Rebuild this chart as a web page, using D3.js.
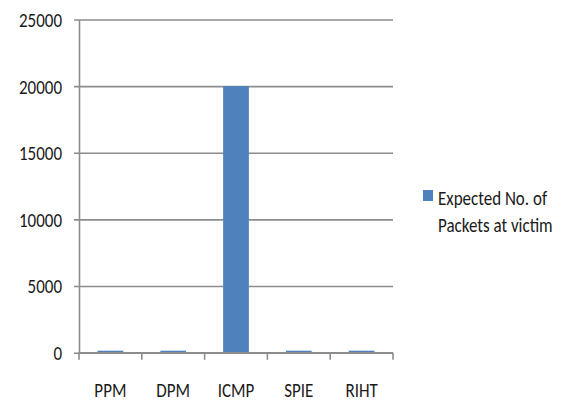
<!DOCTYPE html>
<html>
<head>
<meta charset="utf-8">
<script src="https://cdn.jsdelivr.net/npm/d3@7"></script>
<style>
  html, body { margin: 0; padding: 0; background: #fff; }
  svg text { font-family: Carlito, Lato, "Open Sans", sans-serif; fill: #1a1a1a; }
</style>
</head>
<body>
<svg id="chart" width="568" height="401"></svg>
<script>
// Expected number of packets needed at the victim, per traceback scheme
const categories = ["PPM", "DPM", "ICMP", "SPIE", "RIHT"];
const expectedPackets = [150, 150, 20000, 150, 150];
const yTicks = [0, 5000, 10000, 15000, 20000, 25000];
const seriesName = ["Expected No. of", "Packets at victim"];

const svg = d3.select("#chart");
const margin = { left: 79, right: 175, top: 19.5, bottom: 48.3 };
const W = 568, H = 401;
const stretch = 1.15; // slightly tall lettering

const x = d3.scaleBand()
  .domain(categories)
  .range([margin.left, W - margin.right])
  .paddingInner(0.59)
  .paddingOuter(0.295);

const y = d3.scaleLinear()
  .domain([0, 25000])
  .range([H - margin.bottom, margin.top]);

const gridColor = "#8c8c8c";

// horizontal gridlines
const yAxis = d3.axisLeft(y)
  .tickValues(yTicks)
  .tickSize(-(W - margin.right - margin.left))
  .tickSizeOuter(0)
  .tickPadding(12)
  .tickFormat(d3.format("d"));

const gy = svg.append("g")
  .attr("transform", `translate(${margin.left},0)`)
  .call(yAxis);
gy.select(".domain").attr("stroke", gridColor).attr("stroke-width", 1.6);
gy.selectAll(".tick line")
  .attr("stroke", gridColor).attr("stroke-width", 1.6)
  .attr("x1", -5);
gy.selectAll(".tick text")
  .attr("x", null).attr("dy", null)
  .attr("y", 6)
  .attr("transform", `translate(-17,0) scale(1,${stretch})`)
  .style("font-size", "17px");

// bars
svg.append("g").selectAll("rect")
  .data(categories.map((c, i) => ({ c, v: expectedPackets[i] })))
  .join("rect")
  .attr("x", d => x(d.c))
  .attr("width", x.bandwidth())
  .attr("y", d => y(d.v))
  .attr("height", d => y(0) - y(d.v))
  .attr("fill", "#4f81bd");

// category axis with ticks between groups
const step = x.step();
const boundaries = d3.range(categories.length + 1)
  .map(i => margin.left + i * step);
const gx = svg.append("g");
gx.append("line")
  .attr("x1", margin.left).attr("x2", W - margin.right)
  .attr("y1", y(0)).attr("y2", y(0))
  .attr("stroke", gridColor).attr("stroke-width", 1.6);
gx.selectAll("line.tk")
  .data(boundaries)
  .join("line")
  .attr("class", "tk")
  .attr("x1", d => d).attr("x2", d => d)
  .attr("y1", y(0)).attr("y2", y(0) + 7)
  .attr("stroke", gridColor).attr("stroke-width", 1.6);
gx.selectAll("text")
  .data(categories)
  .join("text")
  .attr("transform", d => `translate(${x(d) + x.bandwidth() / 2},${y(0) + 44}) scale(1,${stretch})`)
  .attr("text-anchor", "middle")
  .style("font-size", "17px")
  .text(d => d);

// legend
const lg = svg.append("g").attr("transform", "translate(423,190)");
lg.append("rect").attr("width", 10).attr("height", 11).attr("fill", "#4f81bd");
lg.selectAll("text")
  .data(seriesName)
  .join("text")
  .attr("transform", (d, i) => `translate(15,${15 + i * 27}) scale(1,${stretch})`)
  .style("font-size", "17px")
  .text(d => d);
</script>
</body>
</html>
